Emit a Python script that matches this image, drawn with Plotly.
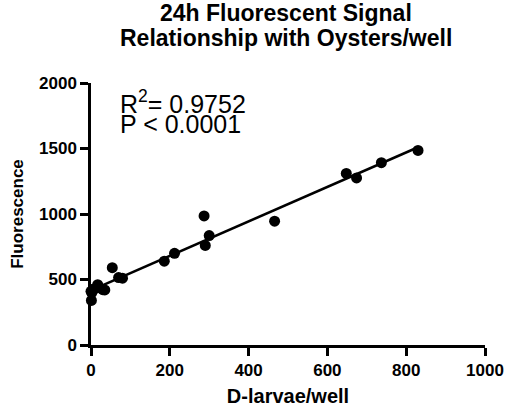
import numpy as np
import plotly.graph_objects as go

# Data
larvae = [0, 1, 2, 5, 10, 17, 20, 30, 35, 54, 70, 80, 186, 212, 287, 290, 300, 466, 648, 674, 737, 830]
fluor = [410, 340, 400, 425, 430, 460, 440, 422, 420, 590, 515, 510, 640, 700, 985, 760, 835, 945, 1310, 1275, 1392, 1485]

x_ticks = [0, 200, 400, 600, 800, 1000]
y_ticks = [0, 500, 1000, 1500, 2000]

title_lines = ["24h Fluorescent Signal", "Relationship with Oysters/well"]
stats_lines = ["R<sup>2</sup>= 0.9752", "P < 0.0001"]

slope, intercept = np.polyfit(larvae, fluor, 1)
fit_x = [min(larvae), max(larvae)]
fit_y = [slope * v + intercept for v in fit_x]

FONT = "Arial, Liberation Sans, sans-serif"

fig = go.Figure()
fig.add_trace(go.Scatter(x=fit_x, y=fit_y, mode="lines",
                         line=dict(color="black", width=2.5), showlegend=False))
fig.add_trace(go.Scatter(x=larvae, y=fluor, mode="markers",
                         marker=dict(color="black", size=11), showlegend=False, cliponaxis=False))

axis_common = dict(showgrid=False, zeroline=False, showline=True, linecolor="black", linewidth=2.5,
                   ticks="outside", ticklen=8, tickwidth=2.5, tickcolor="black", automargin=False,
                   tickfont=dict(family=FONT, size=17, color="black", weight="bold"))

fig.update_xaxes(range=[0, 1000], tickvals=x_ticks, ticktext=[str(v) for v in x_ticks],
                 title=dict(text="<b>D-larvae/well</b>", font=dict(family=FONT, size=20, color="black"), standoff=10),
                 **axis_common)
fig.update_yaxes(range=[0, 2000], tickvals=y_ticks, ticktext=[str(v) for v in y_ticks],
                 title=dict(text="<b>Fluorescence</b>", font=dict(family=FONT, size=17, color="black"), standoff=12),
                 **axis_common)

fig.update_layout(
    width=508, height=410,
    margin=dict(l=91, r=23, t=83, b=65),
    paper_bgcolor="white", plot_bgcolor="white",
)

fig.add_annotation(x=0.494, y=1.268, xref="paper", yref="paper", text="<b>" + title_lines[0] + "</b>",
                   showarrow=False, xanchor="center", yanchor="middle",
                   font=dict(family=FONT, size=23, color="black"))
fig.add_annotation(x=0.496, y=1.170, xref="paper", yref="paper", text="<b>" + title_lines[1] + "</b>",
                   showarrow=False, xanchor="center", yanchor="middle",
                   font=dict(family=FONT, size=23, color="black"))

fig.add_annotation(x=69, y=1855, xref="x", yref="y", text=stats_lines[0], showarrow=False,
                   xanchor="left", yanchor="middle", font=dict(family=FONT, size=25, color="black"))
fig.add_annotation(x=69, y=1686, xref="x", yref="y", text=stats_lines[1], showarrow=False,
                   xanchor="left", yanchor="middle", font=dict(family=FONT, size=25, color="black"))

fig.write_html("out.html")
